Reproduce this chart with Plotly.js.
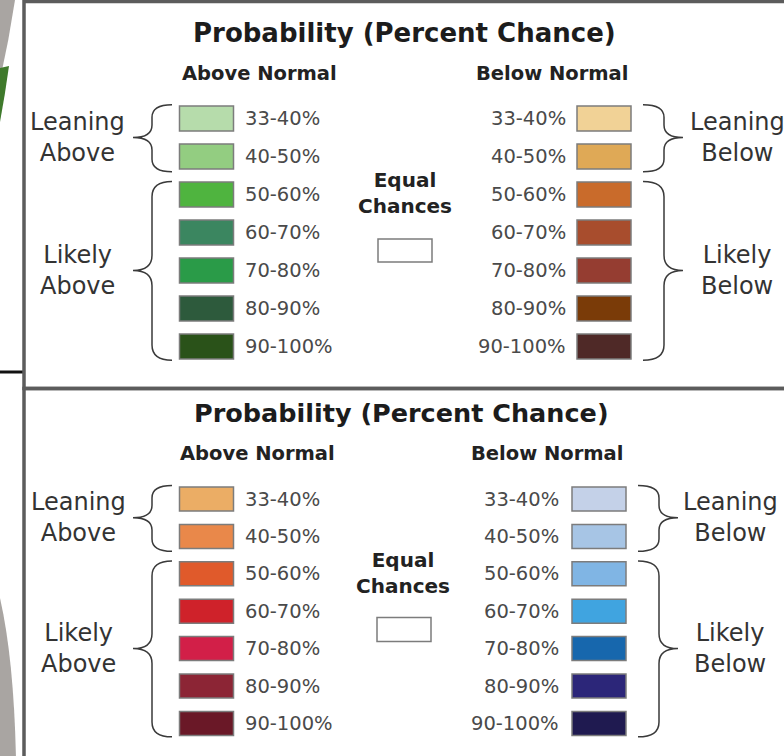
<!DOCTYPE html>
<html><head><meta charset="utf-8">
<script src="https://cdn.plot.ly/plotly-3.0.1.min.js"></script>
<style>html,body{margin:0;padding:0;background:#fff;overflow:hidden}#chart{width:784px;height:756px}</style>
</head><body><div id="chart"></div>
<script>
// ---- data ----
const ranges = ["33-40%","40-50%","50-60%","60-70%","70-80%","80-90%","90-100%"];
const rows = [0,1,2,3,4,5,6];
const greenAbove = ["#b6dcab","#93cd81","#4fb43f","#3b8660","#2a9b48","#2d5a3c","#2a5219"];
const brownBelow = ["#f1d296","#dfa956","#c96b2b","#a84d2d","#953d31","#7a3b08","#4f2927"];
const redAbove   = ["#ebad65","#e9884a","#e05a2b","#cf222a","#d21f48","#8c2535","#6a1827"];
const blueBelow  = ["#c4d1e8","#a7c5e5","#80b5e4","#40a4e0","#1767ad","#2c2679","#1f1a50"];
const titleText = "Probability (Percent Chance)";
const aboveHead = "Above Normal", belowHead = "Below Normal";
const equalText = "Equal<br>Chances";
const leanAbove = "Leaning<br>Above", likelyAbove = "Likely<br>Above";
const leanBelow = "Leaning<br>Below", likelyBelow = "Likely<br>Below";

// ---- layout config ----
const W = 784, H = 756, FONT = "DejaVu Sans";
const panels = [
  {ax:'y', axKey:'yaxis', row0:118.5, pitch:38, h:25, leftX:179.5, rightX:577, sw:54,
   leftLbl:244, rightLbl:567, titleX:404.5, titleY:33, titleSize:26, aboveX:259, belowX:552, subY:73,
   eqX:405, eqY:193, boxX:378, boxY:250.5, boxH:23,
   lB:{xe:172,xm:152,xt:133}, rB:{xe:643,xm:664,xt:683}, lTx:77.5, rTx:737,
   above:greenAbove, below:brownBelow},
  {ax:'y2', axKey:'yaxis2', row0:499, pitch:37.4, h:24, leftX:179.5, rightX:572, sw:54,
   leftLbl:244, rightLbl:560, titleX:401.5, titleY:413, titleSize:25.5, aboveX:257.5, belowX:546.5, subY:453,
   eqX:403, eqY:573, boxX:377, boxY:629.5, boxH:24,
   lB:{xe:172,xm:152,xt:133}, rB:{xe:638,xm:659,xt:678}, lTx:78, rTx:730,
   above:redAbove, below:blueBelow}
];

const traces = [], annotations = [], shapes = [];
const layout = {
  width:W, height:H, margin:{l:0,r:0,t:0,b:0,pad:0},
  paper_bgcolor:'#ffffff', plot_bgcolor:'rgba(0,0,0,0)',
  showlegend:false, barmode:'overlay', hovermode:false,
  xaxis:{range:[0,W], visible:false, fixedrange:true, type:'linear'},
};

function ann(x, y, yref, text, size, o) {
  annotations.push(Object.assign({x:x, y:y, xref:'x', yref:yref, text:text, showarrow:false,
    xanchor:'center', yanchor:'middle', borderpad:0,
    font:{family:FONT, size:size, color:'#333333'}}, o||{}));
}
function brace(b, yTop, yMid, yBot, a, yref) {
  const p = `M ${b.xe},${yTop} Q ${b.xm},${yTop} ${b.xm},${yTop+a} L ${b.xm},${yMid-a} ` +
            `Q ${b.xm},${yMid} ${b.xt},${yMid} Q ${b.xm},${yMid} ${b.xm},${yMid+a} ` +
            `L ${b.xm},${yBot-a} Q ${b.xm},${yBot} ${b.xe},${yBot}`;
  shapes.push({type:'path', path:p, xref:'x', yref:yref, line:{color:'#3a3a3a', width:1.5}});
}

panels.forEach(P => {
  const r = px => (px - P.row0) / P.pitch;   // pixel -> row units
  layout[P.axKey] = {range:[(H - P.row0)/P.pitch, -P.row0/P.pitch], domain:[0,1], visible:false,
                     fixedrange:true, type:'linear'};
  if (P.ax === 'y2') layout[P.axKey].overlaying = 'y';
  const hw = P.h / P.pitch;
  const sw = (cols, x0) => ({type:'bar', orientation:'h', y:rows, x:cols.map(()=>P.sw),
    base:cols.map(()=>x0), width:hw, yaxis:P.ax, xaxis:'x',
    marker:{color:cols, line:{color:'#7c7c7c', width:1.5}}, hoverinfo:'skip'});
  traces.push(sw(P.above, P.leftX));
  traces.push(sw(P.below, P.rightX));
  // equal chances box
  traces.push({type:'bar', orientation:'h', y:[r(P.boxY)], x:[P.sw], base:[P.boxX],
    width:P.boxH/P.pitch, yaxis:P.ax, xaxis:'x',
    marker:{color:'#ffffff', line:{color:'#7c7c7c', width:1.5}}, hoverinfo:'skip'});
  // labels
  ranges.forEach((t, i) => {
    ann(P.leftLbl, rows[i], P.ax, t, 19.5, {xanchor:'left', font:{family:FONT, size:19.5, color:'#4a4a4a'}});
    ann(P.rightLbl, rows[i], P.ax, t, 19.5, {xanchor:'right', font:{family:FONT, size:19.5, color:'#4a4a4a'}});
  });
  ann(P.titleX, r(P.titleY), P.ax, '<b>'+titleText+'</b>', P.titleSize, {font:{family:FONT, size:P.titleSize, color:'#1c1c1c'}});
  ann(P.aboveX, r(P.subY), P.ax, '<b>'+aboveHead+'</b>', 19.5, {font:{family:FONT, size:19.5, color:'#222'}});
  ann(P.belowX, r(P.subY), P.ax, '<b>'+belowHead+'</b>', 19.5, {font:{family:FONT, size:19.5, color:'#222'}});
  ann(P.eqX, r(P.eqY), P.ax, '<b>'+equalText+'</b>', 20, {font:{family:FONT, size:20, color:'#222'}});
  ann(P.lTx, 0.5, P.ax, P === panels[0] ? leanAbove : leanAbove, 24);
  ann(P.lTx, 4, P.ax, likelyAbove, 24);
  ann(P.rTx, 0.5, P.ax, leanBelow, 24);
  ann(P.rTx, 4, P.ax, likelyBelow, 24);
  // braces
  brace(P.lB, -0.36, 0.5, 1.4, 0.33, P.ax);
  brace(P.lB, 1.66, 4, 6.36, 0.4, P.ax);
  brace(P.rB, -0.36, 0.5, 1.4, 0.33, P.ax);
  brace(P.rB, 1.66, 4, 6.36, 0.4, P.ax);
});

// panel frames and slide decorations (paper y)
const py = p => 1 - p / H;
shapes.push({type:'path', xref:'x', yref:'paper', line:{width:0}, fillcolor:'#a9a5a2',
  path:`M 0,${py(0)} L 15,${py(0)} Q 9,${py(40)} 0,${py(80)} Z`, layer:'below'});
shapes.push({type:'path', xref:'x', yref:'paper', line:{width:0}, fillcolor:'#3f7a2c',
  path:`M 0,${py(68)} L 9,${py(66)} Q 5,${py(95)} 0,${py(122)} Z`, layer:'below'});
shapes.push({type:'path', xref:'x', yref:'paper', line:{width:0}, fillcolor:'#a9a5a2',
  path:`M 0,${py(598)} Q 14,${py(660)} 16,${py(760)} L 0,${py(760)} Z`, layer:'below'});
shapes.push({type:'line', xref:'x', yref:'paper', x0:0, x1:23, y0:py(372), y1:py(372), line:{color:'#111', width:3}});
shapes.push({type:'rect', xref:'x', yref:'paper', x0:24, x1:800, y0:py(388.5), y1:py(1.5), line:{color:'#5c5c5c', width:3.5}});
shapes.push({type:'rect', xref:'x', yref:'paper', x0:24, x1:800, y0:py(770), y1:py(388.5), line:{color:'#5c5c5c', width:3.5}});

layout.annotations = annotations;
layout.shapes = shapes;
Plotly.newPlot('chart', traces, layout, {staticPlot:true, displayModeBar:false});
</script>
</body></html>
